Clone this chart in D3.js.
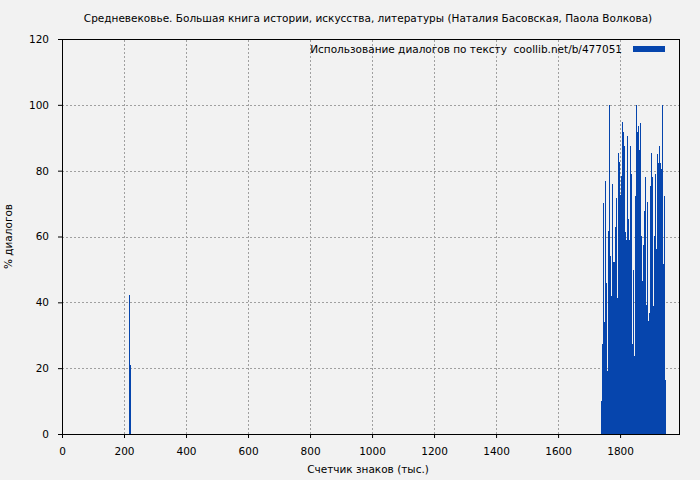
<!DOCTYPE html>
<html lang="ru">
  <head>
    <meta charset="utf-8">
    <title>Использование диалогов по тексту</title>
    <style>
      body { margin: 0; background: #f2f2f2; }
      svg { display: block; }
      text { font-family: 'DejaVu Sans', sans-serif; font-size: 10.5px; fill: #000; white-space: pre; }
    </style>
  </head>
  <body>
    <svg width="700" height="480"></svg>
    <script src="https://cdn.jsdelivr.net/npm/d3@7"></script>
    <script>
      // data (x in thousands of characters, y in % of dialogues)
      const chart_title = 'Средневековье. Большая книга истории, искусства, литературы (Наталия Басовская, Паола Волкова)';
      const series_name = 'Использование диалогов по тексту  coollib.net/b/477051';
      const x_label = 'Счетчик знаков (тыс.)';
      const y_label = '% диалогов';
      const x_ticks = [0, 200, 400, 600, 800, 1000, 1200, 1400, 1600, 1800];
      const y_ticks = [0, 20, 40, 60, 80, 100, 120];

      const chunk_size = 3.2;   // thousand characters per bar
      const part1_start = 216;
      const part1_values = [42.2, 21.0];
      const part2_start = 1739;
      const part2_values = [
        10.1, 27.4, 70.2, 34.0, 76.9, 46.0, 19.1, 61.7, 100, 54.1,
        41.9, 76.0, 52.3, 52.3, 63.0, 71.6, 41.3, 85.3, 82.7, 72.6,
        78.4, 94.7, 91.6, 87.5, 61.5, 58.9, 90.5, 65.3, 58.9, 87.5,
        79.1, 27.3, 49.8, 23.7, 72.3, 100, 91.6, 93.6, 86.3, 94.5,
        60.2, 46.6, 57.4, 67.7, 78.2, 39.2, 70.4, 34.4, 36.9, 75.3,
        85.3, 78.2, 39.0, 60.2, 79.0, 56.2, 85.0, 82.3, 87.5, 82.3,
        80.5, 100, 51.7, 72.3, 16.4
      ];

      const svg = d3.select('svg');
      const svg_width = +svg.attr('width');
      const svg_height = +svg.attr('height');
      const margin = {top: 39, right: 21, bottom: 46, left: 62};

      // build bar list from the two parts
      const bars = [];
      part1_values.forEach((v, i) => bars.push({x0: part1_start + i * chunk_size, value: v}));
      part2_values.forEach((v, i) => bars.push({x0: part2_start + i * chunk_size, value: v}));

      const x_scale = d3.scaleLinear()
        .domain([0, 1990])
        .range([margin.left, svg_width - margin.right]);
      const y_scale = d3.scaleLinear()
        .domain([0, 120])
        .range([svg_height - margin.bottom, margin.top]);

      svg.append('rect')
        .attr('width', svg_width)
        .attr('height', svg_height)
        .attr('fill', '#f2f2f2');

      // grid
      const grid_g = svg.append('g')
        .attr('stroke', '#a0a0a0')
        .attr('stroke-width', 1)
        .attr('stroke-dasharray', '2,2');
      grid_g.selectAll('.gx')
        .data(x_ticks.filter(d => d > 0)).enter()
        .append('line')
          .attr('x1', d => Math.round(x_scale(d)) + 0.5)
          .attr('x2', d => Math.round(x_scale(d)) + 0.5)
          .attr('y1', y_scale(0))
          .attr('y2', y_scale(120));
      grid_g.selectAll('.gy')
        .data(y_ticks.filter(d => d > 0 && d < 120)).enter()
        .append('line')
          .attr('x1', x_scale(0))
          .attr('x2', x_scale(1990))
          .attr('y1', d => Math.round(y_scale(d)) + 0.5)
          .attr('y2', d => Math.round(y_scale(d)) + 0.5);

      // bars, snapped to whole pixels
      const px = v => Math.round(x_scale(v));
      svg.append('g')
        .attr('fill', '#0645ad')
        .selectAll('rect')
        .data(bars).enter()
        .append('rect')
          .attr('x', d => px(d.x0))
          .attr('y', d => y_scale(d.value))
          .attr('width', d => Math.max(1, px(d.x0 + chunk_size) - px(d.x0)))
          .attr('height', d => y_scale(0) - y_scale(d.value))
          .attr('shape-rendering', 'crispEdges');

      // axes
      const x_axis = d3.axisBottom(x_scale)
        .tickValues(x_ticks)
        .tickFormat(d3.format('d'))
        .tickSize(4)
        .tickPadding(10);
      const x_axis_g = svg.append('g')
        .attr('transform', `translate(0,${svg_height - margin.bottom})`)
        .call(x_axis);
      const y_axis = d3.axisLeft(y_scale)
        .tickValues(y_ticks)
        .tickFormat(d3.format('d'))
        .tickSize(4)
        .tickPadding(9);
      const y_axis_g = svg.append('g')
        .attr('transform', `translate(${margin.left},0)`)
        .call(y_axis);
      [x_axis_g, y_axis_g].forEach(g => {
        g.selectAll('text').style('font-family', "'DejaVu Sans', sans-serif").style('font-size', '10.5px');
        g.select('.domain').remove();
      });

      // frame
      svg.append('rect')
        .attr('x', x_scale(0))
        .attr('y', y_scale(120))
        .attr('width', x_scale(1990) - x_scale(0))
        .attr('height', y_scale(0) - y_scale(120))
        .attr('fill', 'none')
        .attr('stroke', '#000')
        .attr('shape-rendering', 'crispEdges');

      // titles
      svg.append('text')
        .attr('x', 368)
        .attr('y', 22)
        .attr('text-anchor', 'middle')
        .text(chart_title);
      svg.append('text')
        .attr('x', 368)
        .attr('y', 473)
        .attr('text-anchor', 'middle')
        .text(x_label);
      svg.append('text')
        .attr('transform', `translate(12,${(margin.top + svg_height - margin.bottom) / 2}) rotate(-90)`)
        .attr('text-anchor', 'middle')
        .text(y_label);

      // legend
      svg.append('text')
        .attr('x', 622)
        .attr('y', 53)
        .attr('text-anchor', 'end')
        .text(series_name);
      svg.append('rect')
        .attr('x', 633)
        .attr('y', 46)
        .attr('width', 32)
        .attr('height', 6)
        .attr('fill', '#0645ad');
    </script>
  </body>
</html>
